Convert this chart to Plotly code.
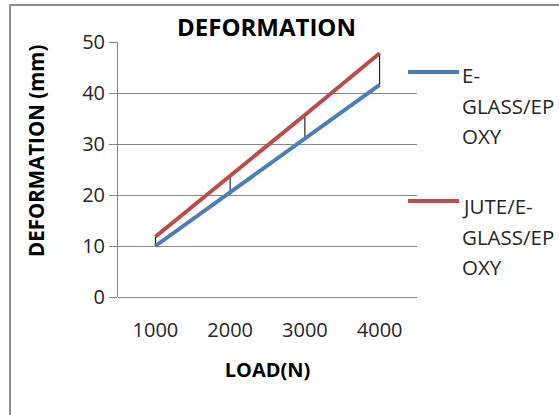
import plotly.graph_objects as go

loads = ["1000", "2000", "3000", "4000"]
eglass_epoxy = [10.0, 20.5, 31.2, 41.6]
jute_eglass_epoxy = [11.8, 23.7, 35.7, 47.8]
series_names = ["E-GLASS/EPOXY", "JUTE/E-GLASS/EPOXY"]
legend_lines = [["E-", "GLASS/EP", "OXY"], ["JUTE/E-", "GLASS/EP", "OXY"]]
y_ticks = [0, 10, 20, 30, 40, 50]

BLUE = "#4A7EBB"
RED = "#BE4B48"
FONT = "Open Sans"

W, H = 559, 415
L, R, T, B = 118, 142, 42, 118
pw, ph = W - L - R, H - T - B

def px_x(p):
    return (p - L) / pw

def px_y(p):
    return (H - B - p) / ph

fig = go.Figure()

# high-low lines between the two series
hx, hy = [], []
for c, a, b in zip(loads, eglass_epoxy, jute_eglass_epoxy):
    hx += [c, c, None]
    hy += [a, b, None]
fig.add_trace(go.Scatter(x=hx, y=hy, mode="lines", line=dict(color="black", width=1),
                         showlegend=False, hoverinfo="skip"))

fig.add_trace(go.Scatter(x=loads, y=eglass_epoxy, mode="lines", name=series_names[0],
                         line=dict(color=BLUE, width=4), showlegend=False))
fig.add_trace(go.Scatter(x=loads, y=jute_eglass_epoxy, mode="lines", name=series_names[1],
                         line=dict(color=RED, width=4), showlegend=False))

shapes = [
    dict(type="rect", xref="paper", yref="paper", x0=px_x(10), x1=px_x(700),
         y0=px_y(5), y1=px_y(700), line=dict(color="#8C8C8C", width=2), layer="below"),
]
annotations = []
legend_line_y = [72, 201]
legend_text_y = [75, 206]
for i, (color, lines) in enumerate(zip([BLUE, RED], legend_lines)):
    shapes.append(dict(type="line", xref="paper", yref="paper", x0=px_x(408), x1=px_x(459),
                       y0=px_y(legend_line_y[i]), y1=px_y(legend_line_y[i]),
                       line=dict(color=color, width=4)))
    for j, t in enumerate(lines):
        annotations.append(dict(text=t, xref="paper", yref="paper", x=px_x(460),
                                y=px_y(legend_text_y[i] + 30.5 * j),
                                xanchor="left", yanchor="middle", showarrow=False,
                                font=dict(family=FONT, size=20.5, color="#262626")))

annotations.append(dict(text="<b>DEFORMATION</b>", xref="paper", yref="paper", x=px_x(266), y=px_y(27),
                        xanchor="center", yanchor="middle", showarrow=False,
                        font=dict(family=FONT, size=24, color="black")))
annotations.append(dict(text="<b>DEFORMATION (mm)</b>", xref="paper", yref="paper", x=px_x(36), y=px_y(151),
                        xanchor="center", yanchor="middle", showarrow=False, textangle=-90,
                        font=dict(family=FONT, size=20.5, color="black")))

fig.update_layout(
    width=W, height=H,
    margin=dict(l=L, r=R, t=T, b=B),
    paper_bgcolor="white", plot_bgcolor="white",
    shapes=shapes, annotations=annotations,
    font=dict(family=FONT, color="#262626"),
    xaxis=dict(type="category", range=[-0.5, 3.5], showgrid=False, showline=False,
               ticks="", zeroline=False, tickfont=dict(size=20, color="#262626"),
               ticklabelstandoff=19,
               title=dict(text="<b>LOAD(N)</b>", font=dict(size=20, color="black"), standoff=20)),
    yaxis=dict(range=[0, 50], tickvals=y_ticks, showgrid=True, gridcolor="#868686", gridwidth=1,
               showline=True, linecolor="#868686", linewidth=1, ticks="outside", ticklen=8,
               tickcolor="#868686", zeroline=True, zerolinecolor="#868686", zerolinewidth=1,
               tickfont=dict(size=20, color="#262626")),
)

fig.write_html("out.html")
